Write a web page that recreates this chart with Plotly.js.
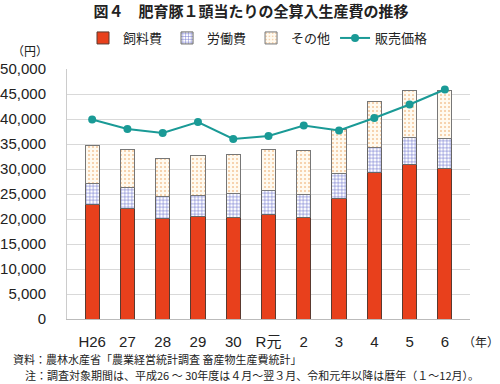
<!DOCTYPE html>
<html><head><meta charset="utf-8">
<script src="https://cdn.plot.ly/plotly-3.0.1.min.js"></script>
<style>body{margin:0;background:#fff}#c{width:500px;height:384px}</style>
</head><body><div id="c"></div>
<script>
var categories = ["H26","27","28","29","30","R元","2","3","4","5","6"];
var feed  = [23000,22200,20200,20500,20400,21000,20300,24200,29300,30900,30100];
var labor = [4200,4100,4400,4300,4700,4700,4700,4900,5100,5400,6100];
var other = [7500,7600,7500,7900,7800,8200,8700,8800,9100,9500,9500];
var price = [39900,38000,37200,39400,36000,36600,38700,37700,40200,42900,45900];

var F = "Liberation Sans, Noto Sans CJK JP, sans-serif";
var J = "Noto Sans CJK JP, sans-serif";
// plot area in pixels: left 67, right 470, top 69, bottom 319
function px(x){ return (x-67)/403; }
function py(y){ return (319-y)/250; }
var traces = [
  {type:"bar", name:"飼料費", x:categories, y:feed, width:0.4,
   marker:{color:"#E8401C", line:{color:"#5a3a30", width:1}}},
  {type:"bar", name:"労働費", x:categories, y:labor, width:0.4,
   marker:{color:"#ffffff", line:{color:"#666", width:1},
     pattern:{shape:"+", fgcolor:"#6a70cc", bgcolor:"#ffffff", size:3.5, solidity:0.3}}},
  {type:"bar", name:"その他", x:categories, y:other, width:0.4,
   marker:{color:"#fffaf0", line:{color:"#777", width:1},
     pattern:{shape:".", fgcolor:"#f3c69a", bgcolor:"#fffaf0", size:4, solidity:0.2}}},
  {type:"scatter", mode:"lines+markers", name:"販売価格", x:categories, y:price,
   line:{color:"#1a9a96", width:2}, marker:{color:"#1a9a96", size:8}}
];
var layout = {
  width:500, height:384, barmode:"stack", showlegend:true,
  margin:{l:67, r:30, t:69, b:65},
  paper_bgcolor:"#fff", plot_bgcolor:"#fff",
  font:{family:F, size:14, color:"#222"},
  title:{text:"<b>図４　肥育豚１頭当たりの全算入生産費の推移</b>", x:0.502, xanchor:"center", y:1-12/384, yanchor:"middle",
    font:{family:J, size:15, color:"#222"}},
  legend:{orientation:"h", x:px(258), xanchor:"center", y:py(38), yanchor:"middle",
    font:{family:J, size:13, color:"#222"}, traceorder:"normal", itemwidth:30, tracegroupgap:0},
  xaxis:{type:"category", showgrid:false, showline:true, linecolor:"#bbb", ticks:"",
    tickfont:{family:F, size:15}, ticklabelstandoff:9},
  yaxis:{range:[0,50000], dtick:5000, tickformat:",d", showgrid:true, gridcolor:"#d9d9d9",
    showline:true, linecolor:"#ccc", ticks:"", zeroline:false, tickfont:{family:F, size:15}, ticklabelstandoff:17},
  annotations:[
    {text:"（円）", xref:"paper", yref:"paper", x:px(10), y:py(51), xanchor:"left", yanchor:"middle", showarrow:false,
      font:{family:J, size:12, color:"#222"}},
    {text:"（年）", xref:"paper", yref:"paper", x:px(501), y:py(341), xanchor:"right", yanchor:"middle", showarrow:false,
      font:{family:J, size:12, color:"#222"}},
    {text:"資料：農林水産省「農業経営統計調査 畜産物生産費統計」", xref:"paper", yref:"paper",
      x:px(11), y:py(359), xanchor:"left", yanchor:"middle", showarrow:false, font:{family:J, size:11, color:"#222"}},
    {text:"注：調査対象期間は、平成26 ～ 30年度は４月～翌３月、令和元年以降は暦年（１～12月）。", xref:"paper", yref:"paper",
      x:px(23), y:py(375), xanchor:"left", yanchor:"middle", showarrow:false, font:{family:J, size:11, color:"#222"}}
  ]
};
Plotly.newPlot("c", traces, layout, {staticPlot:true, displayModeBar:false});
</script></body></html>
